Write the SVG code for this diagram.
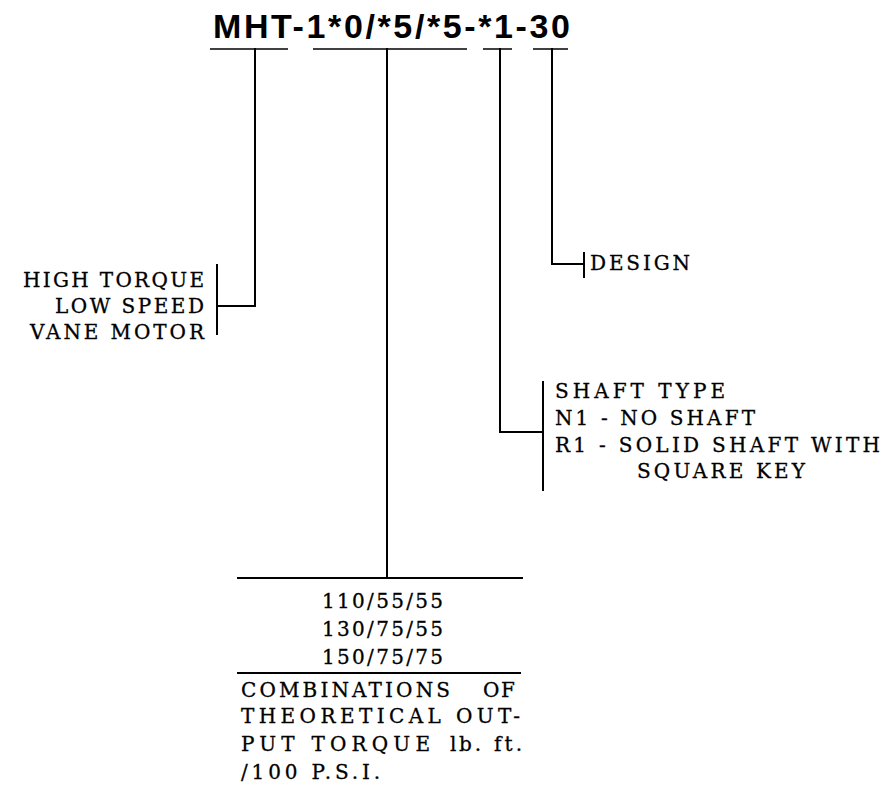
<svg xmlns="http://www.w3.org/2000/svg" width="886" height="794" viewBox="0 0 886 794">
<style>
.ln{stroke:#000;stroke-width:2;fill:none;stroke-linecap:square}
.ul{stroke:#000;stroke-width:1.5;fill:none}
.t{font-family:"DejaVu Serif","Liberation Serif",serif;font-size:20px;fill:#000;stroke:#000;stroke-width:0.3}
.title{font-family:"Liberation Sans",Arial,sans-serif;font-size:34px;font-weight:bold;fill:#000}
</style>
<rect width="886" height="794" fill="#fff"/>
<g id="title">
<text class="title" x="213" y="37.5" textLength="357" lengthAdjust="spacing">MHT-1*0/*5/*5-*1-30</text>
</g>
<g id="connectors">
<line class="ul" x1="210" y1="49" x2="288" y2="49"/>
<line class="ul" x1="313" y1="49" x2="467" y2="49"/>
<line class="ul" x1="483" y1="49" x2="512" y2="49"/>
<line class="ul" x1="533" y1="49" x2="568" y2="49"/>
<polyline class="ln" points="255,49 255,306 217,306"/>
<line class="ln" x1="217" y1="265" x2="217" y2="334"/>
<polyline class="ln" points="552,49 552,264 584,264"/>
<line class="ln" x1="584" y1="253" x2="584" y2="277"/>
<polyline class="ln" points="500,49 500,432 543,432"/>
<line class="ln" x1="543" y1="382" x2="543" y2="490"/>
<line class="ln" x1="387" y1="49" x2="387" y2="578"/>
<line class="ln" x1="238" y1="578" x2="522" y2="578"/>
<line class="ln" x1="238" y1="673" x2="520" y2="673"/>
</g>
<g id="node-motor">
<text class="t" text-anchor="end" x="204" y="287" textLength="181" lengthAdjust="spacing">HIGH TORQUE</text>
<text class="t" text-anchor="end" x="204" y="313" textLength="149" lengthAdjust="spacing">LOW SPEED</text>
<text class="t" text-anchor="end" x="204" y="339" textLength="174" lengthAdjust="spacing">VANE MOTOR</text>
</g>
<g id="node-design">
<text class="t" x="590" y="270" textLength="100" lengthAdjust="spacing">DESIGN</text>
</g>
<g id="node-shaft">
<text class="t" x="555" y="398" textLength="170" lengthAdjust="spacing">SHAFT TYPE</text>
<text class="t" x="555" y="425" textLength="200" lengthAdjust="spacing">N1 - NO SHAFT</text>
<text class="t" x="555" y="452" textLength="325" lengthAdjust="spacing">R1 - SOLID SHAFT WITH</text>
<text class="t" x="637" y="478" textLength="168" lengthAdjust="spacing">SQUARE KEY</text>
</g>
<g id="node-torque">
<text class="t" x="322" y="608" textLength="121" lengthAdjust="spacing">110/55/55</text>
<text class="t" x="322" y="636" textLength="121" lengthAdjust="spacing">130/75/55</text>
<text class="t" x="322" y="664" textLength="121" lengthAdjust="spacing">150/75/75</text>
<text class="t" x="241" y="697" textLength="209" lengthAdjust="spacing">COMBINATIONS</text>
<text class="t" x="483" y="697" textLength="32" lengthAdjust="spacing">OF</text>
<text class="t" x="241" y="723" textLength="279" lengthAdjust="spacing">THEORETICAL OUT-</text>
<text class="t" x="241" y="751" textLength="189" lengthAdjust="spacing">PUT TORQUE</text>
<text class="t" x="450" y="751" textLength="31" lengthAdjust="spacing">lb.</text>
<text class="t" x="494" y="751" textLength="28" lengthAdjust="spacing">ft.</text>
<text class="t" x="241" y="779" textLength="139" lengthAdjust="spacing">/100 P.S.I.</text>
</g>
</svg>
